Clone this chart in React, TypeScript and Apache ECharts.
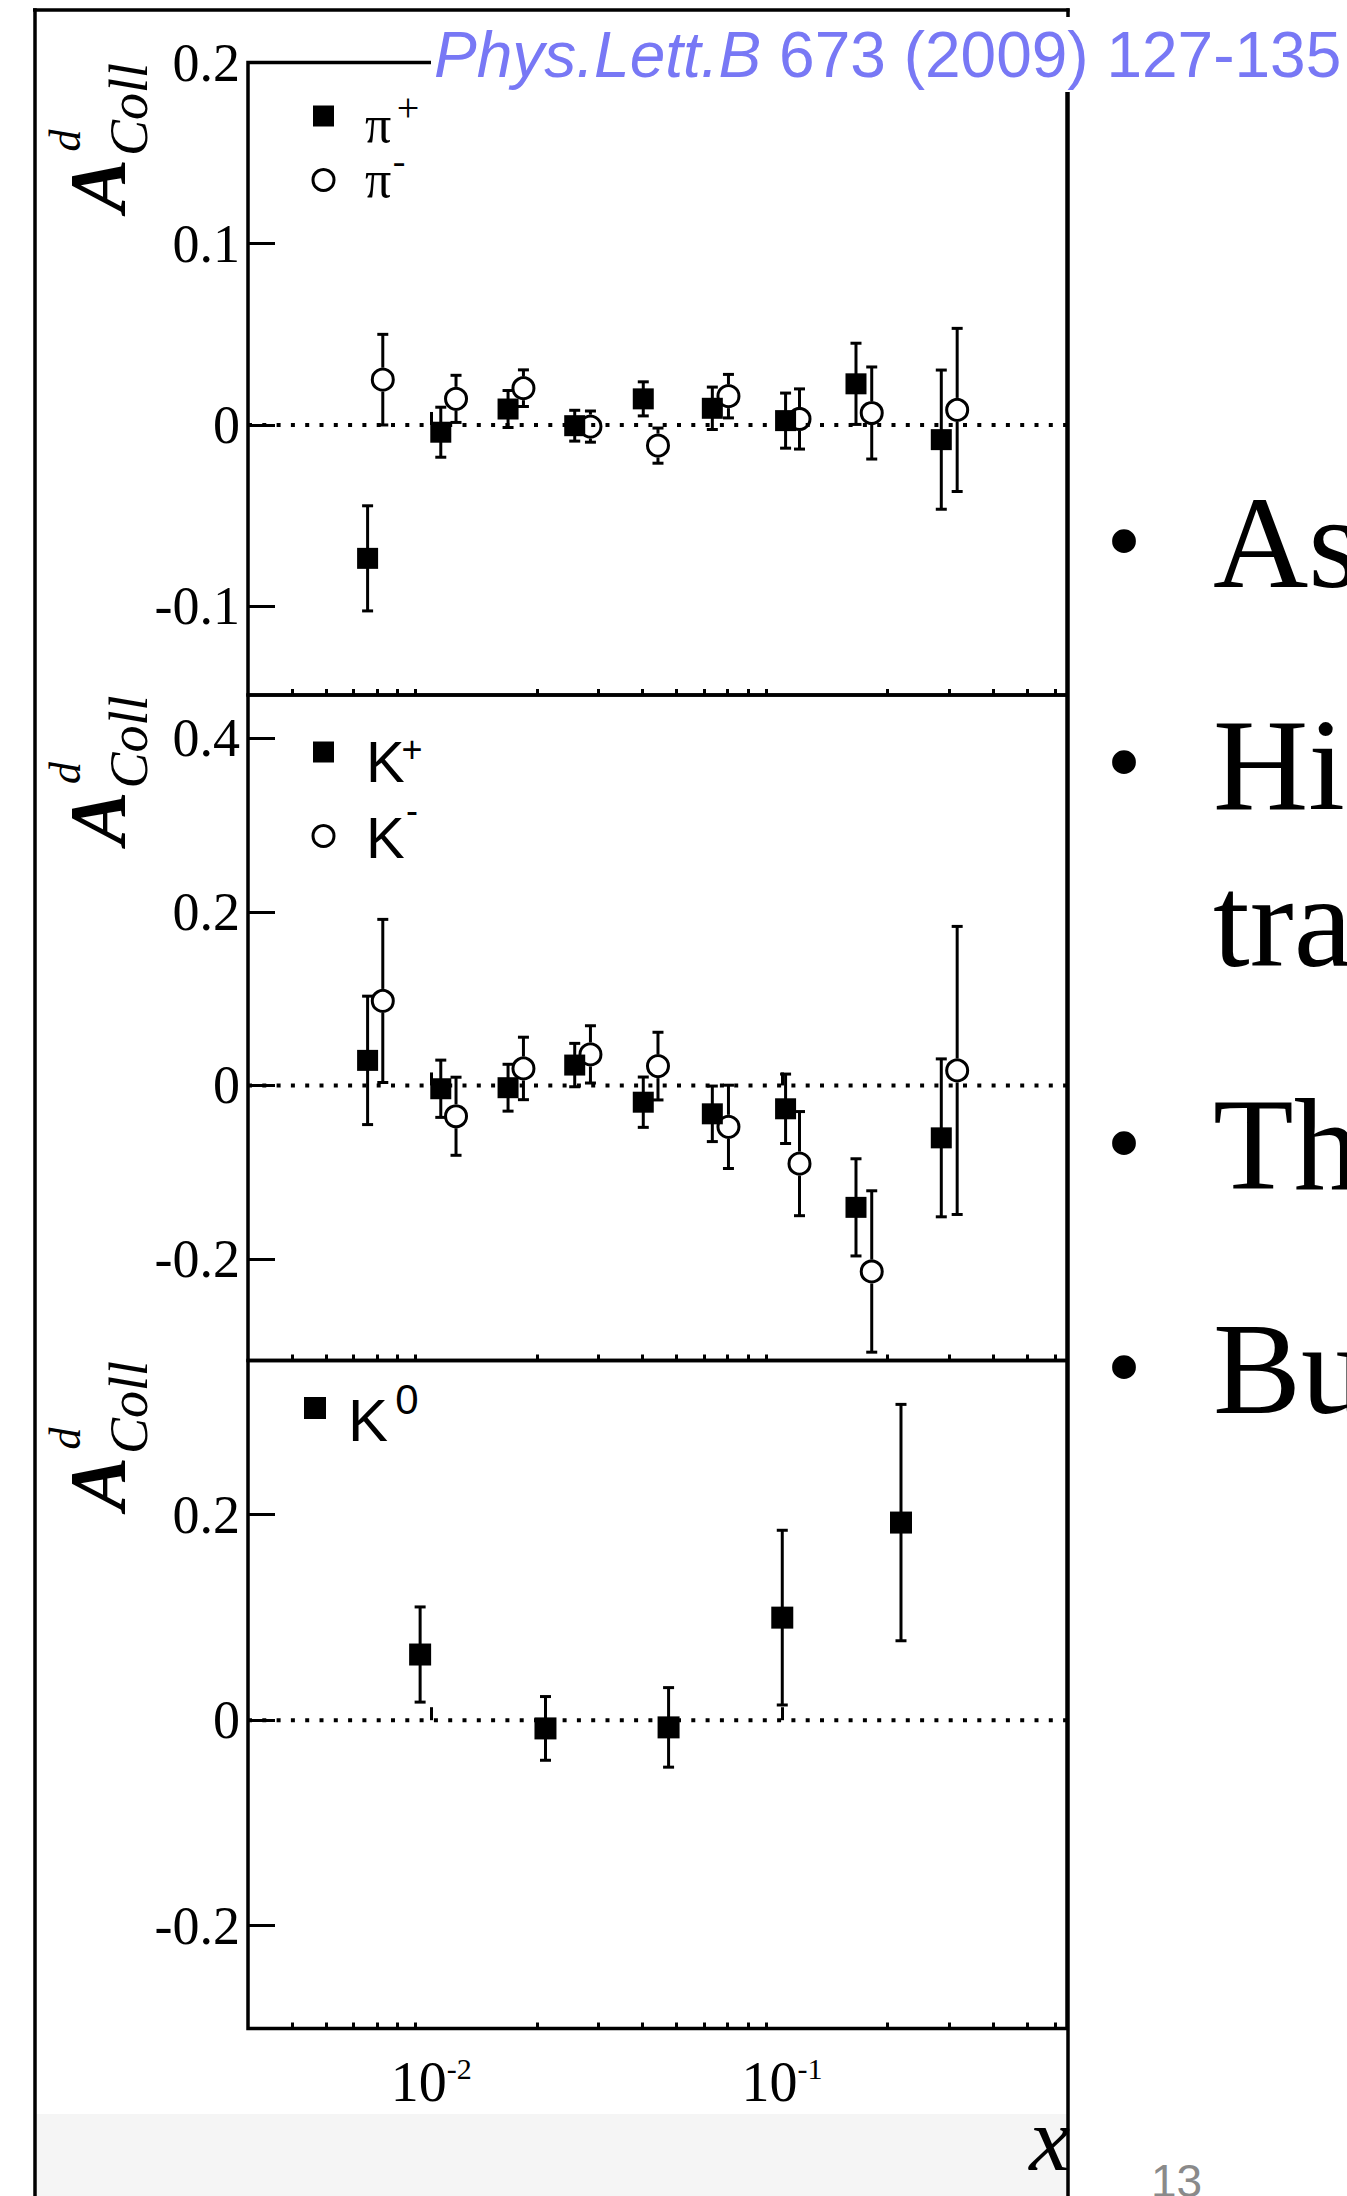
import React, { useEffect, useRef } from "react";
import * as echarts from "echarts";

// ---------- axis ranges / ticks (x in Bjorken x, drawn on a log10 scale) ----------
const X_MIN = 0.003;
const X_MAX = 0.65;
const xMajorTicks = [0.01, 0.1];
const xMinorTicks = [0.004, 0.005, 0.006, 0.007, 0.008, 0.009, 0.02, 0.03, 0.04, 0.05, 0.06, 0.07, 0.08, 0.09, 0.2, 0.3, 0.4, 0.5, 0.6];
const yTicksPi = [-0.1, 0, 0.1, 0.2];
const yTicksK = [-0.2, 0, 0.2, 0.4];
const yTicksK0 = [-0.2, 0, 0.2];

// ---------- data ----------
// x bins for positive hadrons (squares) and negative hadrons (circles, slightly shifted)
const xPos = [0.00658, 0.01064, 0.01655, 0.02564, 0.04022, 0.0633, 0.1024, 0.1626, 0.2847];
const xNeg = [0.00727, 0.01176, 0.01831, 0.02843, 0.0443, 0.07037, 0.1122, 0.1803, 0.316];

const piPlus = [-0.0736, -0.004, 0.0088, -0.0004, 0.0144, 0.0092, 0.0024, 0.0227, -0.0081];
const piPlusErr = [0.029, 0.0138, 0.0102, 0.0085, 0.0094, 0.0117, 0.0152, 0.0224, 0.0384];
const piMinus = [0.025, 0.0144, 0.0203, -0.0009, -0.0114, 0.0159, 0.0033, 0.0066, 0.0083];
const piMinusErr = [0.025, 0.013, 0.0101, 0.0086, 0.0097, 0.012, 0.0166, 0.0254, 0.045];

const kPlus = [0.0289, -0.0038, -0.0026, 0.0235, -0.0193, -0.0327, -0.0269, -0.1405, -0.0604];
const kPlusErr = [0.074, 0.033, 0.027, 0.025, 0.029, 0.032, 0.04, 0.056, 0.091];
const kMinus = [0.0974, -0.0355, 0.0196, 0.0358, 0.0223, -0.0477, -0.0901, -0.2144, 0.0173];
const kMinusErr = [0.094, 0.045, 0.036, 0.033, 0.039, 0.048, 0.06, 0.093, 0.166];

const xK0 = [0.00929, 0.02116, 0.04749, 0.1002, 0.2185];
const k0 = [0.0639, -0.008, -0.007, 0.0998, 0.1923];
const k0Err = [0.0463, 0.031, 0.0387, 0.085, 0.115];

// ---------- styling ----------
const SERIF = "'Liberation Serif', 'Times New Roman', serif";
const SANS = "'Liberation Sans', Arial, sans-serif";
const INK = "#000";
const GRID_LEFT = 248;
const GRID_W = 819;
const lg = (v: number) => Math.log10(v);

const panels = [
  { top: 62.5, height: 632.5, min: -0.149, max: 0.2, ticks: yTicksPi },
  { top: 695, height: 665.5, min: -0.317, max: 0.45, ticks: yTicksK },
  { top: 1360.5, height: 668, min: -0.3, max: 0.35, ticks: yTicksK0 },
];

function errorBars(g: number, xs: number[], ys: number[], es: number[], gap: number) {
  return {
    type: "custom",
    xAxisIndex: g,
    yAxisIndex: g,
    z: 3,
    silent: true,
    clip: false,
    encode: { x: 0, y: 1 },
    data: xs.map((x, i) => [lg(x), ys[i], es[i]]),
    renderItem: (_p: any, api: any) => {
      const x = api.value(0);
      const y = api.value(1);
      const e = api.value(2);
      const c = api.coord([x, y]);
      const t = api.coord([x, y + e]);
      const b = api.coord([x, y - e]);
      const st = { stroke: INK, lineWidth: 3 };
      const cap = 5.5;
      const ch: any[] = [];
      if (c[1] - gap > t[1]) ch.push({ type: "line", shape: { x1: c[0], y1: t[1], x2: c[0], y2: c[1] - gap }, style: st });
      if (b[1] > c[1] + gap) ch.push({ type: "line", shape: { x1: c[0], y1: c[1] + gap, x2: c[0], y2: b[1] }, style: st });
      ch.push({ type: "line", shape: { x1: c[0] - cap, y1: t[1], x2: c[0] + cap, y2: t[1] }, style: st });
      ch.push({ type: "line", shape: { x1: c[0] - cap, y1: b[1], x2: c[0] + cap, y2: b[1] }, style: st });
      return { type: "group", children: ch };
    },
  };
}

function markers(g: number, xs: number[], ys: number[], filled: boolean, size = 21) {
  return {
    type: "scatter",
    xAxisIndex: g,
    yAxisIndex: g,
    z: 4,
    silent: true,
    symbol: filled ? "rect" : "circle",
    symbolSize: size,
    itemStyle: filled
      ? { color: INK, opacity: 1 }
      : { color: "rgba(0,0,0,0)", borderColor: INK, borderWidth: 3, opacity: 1 },
    emphasis: { disabled: true },
    data: xs.map((x, i) => [lg(x), ys[i]]),
  };
}

function zeroLine(g: number) {
  return {
    type: "line",
    xAxisIndex: g,
    yAxisIndex: g,
    z: 1,
    silent: true,
    symbol: "none",
    lineStyle: { color: INK, width: 4, type: [4, 10.3] },
    data: [
      [lg(X_MIN), 0],
      [lg(X_MAX), 0],
    ],
  };
}

function txt(text: string, x: number, y: number, size: number, family: string, opts: any = {}) {
  const { align = "left", weight = "normal", fstyle = "normal", fill = INK, rotation = 0, z = 50 } = opts;
  return {
    type: "text",
    x,
    y,
    rotation,
    z,
    silent: true,
    style: {
      text,
      fontSize: size,
      fontFamily: family,
      fontWeight: weight,
      fontStyle: fstyle,
      fill,
      align,
      verticalAlign: "middle",
    },
  };
}

function yTitle(T: number) {
  return [
    txt("A", 98, T + 123, 80, SERIF, { align: "center", weight: "bold", fstyle: "italic", rotation: Math.PI / 2 }),
    txt("Coll", 129, T + 47, 54, SERIF, { align: "center", fstyle: "italic", rotation: Math.PI / 2 }),
    txt("d", 65, T + 78, 44, SERIF, { align: "center", fstyle: "italic", rotation: Math.PI / 2 }),
  ];
}

function buildOption() {
  const xAxes: any[] = [];
  panels.forEach((_p, g) => {
    xAxes.push({
      gridIndex: g,
      type: "value",
      position: "bottom",
      min: lg(X_MIN),
      max: lg(X_MAX),
      axisLine: { show: false },
      splitLine: { show: false },
      minorTick: { show: false },
      axisTick: {
        show: true,
        inside: true,
        length: 13,
        lineStyle: { color: INK, width: 3 },
        customValues: xMajorTicks.map(lg),
      },
      axisLabel:
        g === 2
          ? {
              show: true,
              customValues: xMajorTicks.map(lg),
              margin: 25,
              color: INK,
              fontFamily: SERIF,
              fontSize: 56,
              formatter: (v: number) => `{b|10}{s|${Math.round(v)}}`,
              rich: {
                b: { fontSize: 56, fontFamily: SERIF, color: INK },
                s: { fontSize: 30, fontFamily: SERIF, color: INK, verticalAlign: "top" },
              },
            }
          : { show: false },
    });
  });
  panels.forEach((_p, g) => {
    xAxes.push({
      gridIndex: g,
      type: "value",
      position: "bottom",
      offset: 0,
      min: lg(X_MIN),
      max: lg(X_MAX),
      axisLine: { show: false },
      splitLine: { show: false },
      axisLabel: { show: false },
      axisTick: {
        show: true,
        inside: true,
        length: 6,
        lineStyle: { color: INK, width: 3 },
        customValues: xMinorTicks.map(lg),
      },
    });
  });

  const yAxes = panels.map((p, g) => ({
    gridIndex: g,
    type: "value",
    min: p.min,
    max: p.max,
    axisLine: { show: false },
    splitLine: { show: false },
    axisTick: { show: true, inside: true, length: 27, lineStyle: { color: INK, width: 3 }, customValues: p.ticks },
    axisLabel: {
      show: true,
      customValues: p.ticks,
      color: INK,
      fontFamily: SERIF,
      fontSize: 54,
      margin: 8,
      padding: [9, 0, 0, 0],
      formatter: (v: number) => String(+Number(v).toFixed(2)),
    },
  }));

  const grids = panels.map((p) => ({
    left: GRID_LEFT,
    top: p.top,
    width: GRID_W,
    height: p.height,
    show: true,
    borderColor: INK,
    borderWidth: 3.5,
    backgroundColor: "transparent",
    containLabel: false,
  }));

  const series: any[] = [
    zeroLine(0),
    zeroLine(1),
    zeroLine(2),
    errorBars(0, xPos, piPlus, piPlusErr, 0),
    errorBars(0, xNeg, piMinus, piMinusErr, 12),
    markers(0, xPos, piPlus, true),
    markers(0, xNeg, piMinus, false),
    errorBars(1, xPos, kPlus, kPlusErr, 0),
    errorBars(1, xNeg, kMinus, kMinusErr, 12),
    markers(1, xPos, kPlus, true),
    markers(1, xNeg, kMinus, false),
    errorBars(2, xK0, k0, k0Err, 0),
    markers(2, xK0, k0, true, 22),
  ];

  const graphic: any[] = [
    // bottom grey band of the slide
    { type: "rect", z: 1, silent: true, shape: { x: 36, y: 2114, width: 1032, height: 82 }, style: { fill: "#f5f5f5" } },
    // outer frame of the figure
    { type: "line", z: 40, silent: true, shape: { x1: 33, y1: 10, x2: 1069.5, y2: 10 }, style: { stroke: INK, lineWidth: 3.5 } },
    { type: "line", z: 40, silent: true, shape: { x1: 35, y1: 8.3, x2: 35, y2: 2196 }, style: { stroke: INK, lineWidth: 3.5 } },
    { type: "line", z: 40, silent: true, shape: { x1: 1068, y1: 8.3, x2: 1068, y2: 2196 }, style: { stroke: INK, lineWidth: 3.5 } },
    // reference box
    { type: "rect", z: 100, silent: true, shape: { x: 431, y: 17, width: 916, height: 75 }, style: { fill: "#fff" } },
    {
      type: "text",
      x: 434,
      y: 55,
      z: 101,
      silent: true,
      style: {
        text: "{i|Phys.Lett.B} {n|673 (2009) 127-135}",
        fontSize: 64,
        fontFamily: SANS,
        fill: "#7878f5",
        align: "left",
        verticalAlign: "middle",
        rich: {
          i: { fontSize: 64, fontFamily: SANS, fontStyle: "italic", fill: "#7878f5" },
          n: { fontSize: 64, fontFamily: SANS, fill: "#7878f5" },
        },
      },
    },
    // y titles
    ...yTitle(panels[0].top),
    ...yTitle(panels[1].top),
    ...yTitle(panels[2].top),
    // legend panel 1
    { type: "rect", z: 50, silent: true, shape: { x: 313, y: 105.5, width: 21, height: 21 }, style: { fill: INK } },
    txt("π", 365, 124, 52, SERIF),
    txt("+", 408, 107, 40, SERIF, { align: "center" }),
    { type: "circle", z: 50, silent: true, shape: { cx: 323.5, cy: 180, r: 10.5 }, style: { fill: "none", stroke: INK, lineWidth: 3 } },
    txt("π", 365, 179, 52, SERIF),
    txt("-", 399, 161, 38, SERIF, { align: "center" }),
    // legend panel 2
    { type: "rect", z: 50, silent: true, shape: { x: 313, y: 741.5, width: 21, height: 21 }, style: { fill: INK } },
    txt("K", 366, 761, 58, SANS),
    txt("+", 412, 749, 36, SANS, { align: "center" }),
    { type: "circle", z: 50, silent: true, shape: { cx: 323.5, cy: 836, r: 10.5 }, style: { fill: "none", stroke: INK, lineWidth: 3 } },
    txt("K", 366, 837, 58, SANS),
    txt("-", 412, 810, 36, SANS, { align: "center" }),
    // legend panel 3
    { type: "rect", z: 50, silent: true, shape: { x: 304, y: 1397, width: 22, height: 22 }, style: { fill: INK } },
    txt("K", 348, 1420, 60, SANS),
    txt("0", 407, 1399, 42, SANS, { align: "center" }),
    // x axis title
    txt("x", 1070, 2139, 92, SERIF, { align: "right", fstyle: "italic" }),
    // slide text on the right
    txt("•", 1124, 540, 100, SERIF, { align: "center" }),
    txt("As", 1213, 542, 132, SERIF),
    txt("•", 1124, 761, 100, SERIF, { align: "center" }),
    txt("Hi", 1213, 764.5, 132, SERIF),
    txt("tra", 1213, 921, 132, SERIF),
    txt("•", 1124, 1142, 100, SERIF, { align: "center" }),
    txt("Th", 1213, 1144, 132, SERIF),
    txt("•", 1124, 1366, 100, SERIF, { align: "center" }),
    txt("Bu", 1213, 1368, 132, SERIF),
    // page number
    txt("13", 1151, 2181, 46, SANS, { fill: "#8a8a8a" }),
  ];

  return {
    animation: false,
    backgroundColor: "#fff",
    grid: grids,
    xAxis: xAxes,
    yAxis: yAxes,
    series,
    graphic: { elements: graphic },
  };
}

export default function App() {
  const ref = useRef<HTMLDivElement>(null);
  useEffect(() => {
    if (!ref.current) return;
    const chart = echarts.init(ref.current, undefined, { renderer: "svg" });
    chart.setOption(buildOption() as any);
    return () => chart.dispose();
  }, []);
  return (
    <div
      ref={ref}
      style={{ position: "absolute", left: 0, top: 0, width: 1347, height: 2196, background: "#fff" }}
    />
  );
}
